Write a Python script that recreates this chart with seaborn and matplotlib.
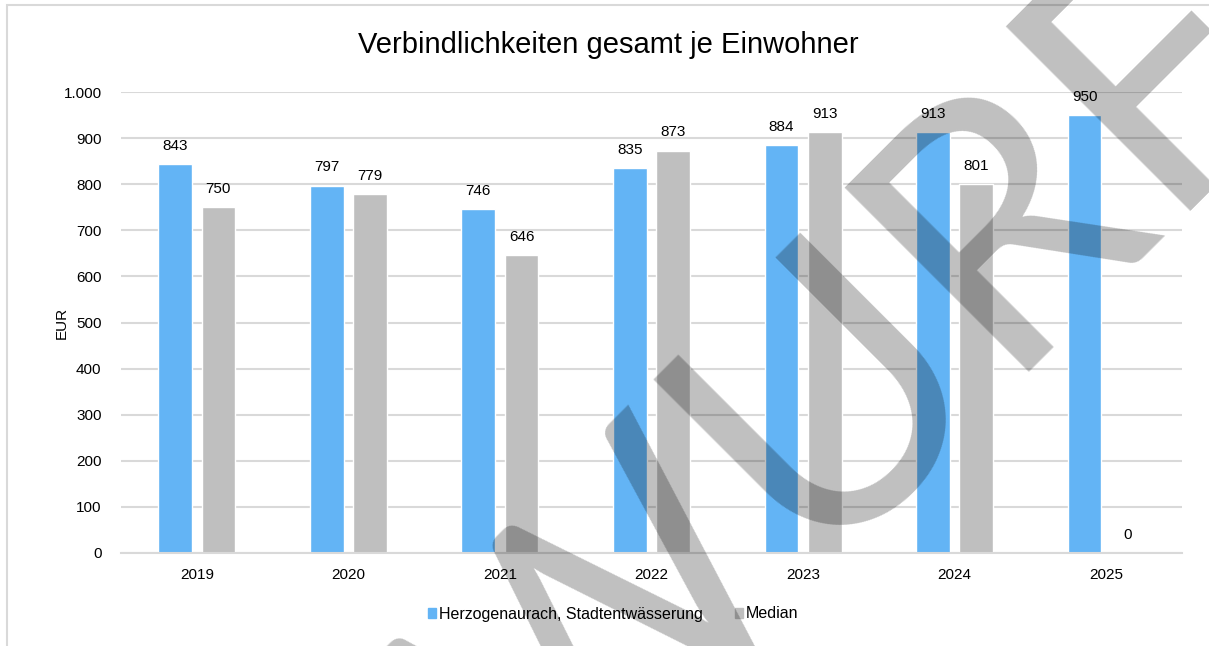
import matplotlib
matplotlib.use("Agg")
import matplotlib.pyplot as plt
import matplotlib.patches as mpatches
from matplotlib.ticker import FuncFormatter, MultipleLocator
import pandas as pd
import seaborn as sns

# Data
years = ["2019", "2020", "2021", "2022", "2023", "2024", "2025"]
herzogenaurach = [843, 797, 746, 835, 884, 913, 950]
median = [750, 779, 646, 873, 913, 801, 0]
series_names = ["Herzogenaurach, Stadtentwässerung", "Median"]

title = "Verbindlichkeiten gesamt je Einwohner"
y_label = "EUR"
watermark = "ENTWURF"

df = pd.DataFrame({
    "Jahr": years * 2,
    "Wert": herzogenaurach + median,
    "Serie": [series_names[0]] * len(years) + [series_names[1]] * len(years),
})

colors = {series_names[0]: "#63B4F5", series_names[1]: "#BFBFBF"}

sns.set_style("white")
plt.rcParams["font.family"] = ["Liberation Sans", "DejaVu Sans"]
plt.rcParams["text.color"] = "black"

fig = plt.figure(figsize=(12.09, 6.46), dpi=100)
ax = fig.add_axes([121 / 1209, 1 - 553 / 646, (1182 - 121) / 1209, (553 - 92) / 646])

sns.barplot(data=df, x="Jahr", y="Wert", hue="Serie", palette=colors,
            width=0.57, gap=0.22, saturation=1, ax=ax, legend=False)

for cont in ax.containers:
    ax.bar_label(cont, fmt="%d", padding=8, fontsize=11, color="black")

ax.set_ylim(0, 1000)
ax.yaxis.set_major_locator(MultipleLocator(100))
ax.yaxis.set_major_formatter(FuncFormatter(lambda v, p: f"{int(v):,}".replace(",", ".")))
ax.grid(axis="y", color="#D9D9D9", linewidth=1.5)
ax.set_axisbelow(True)
for side in ["top", "right", "left"]:
    ax.spines[side].set_visible(False)
ax.spines["bottom"].set_color("#D9D9D9")
ax.spines["bottom"].set_linewidth(1.5)
ax.tick_params(axis="both", length=0, labelsize=11, colors="black")
ax.tick_params(axis="x", pad=11)
ax.tick_params(axis="y", pad=14)
ax.set_xlabel("")
ax.set_ylabel(y_label, fontsize=11, color="black")
ax.yaxis.set_label_coords(-0.049, 0.5)

fig.text(0.503, 1 - 45 / 646, title, ha="center", va="center", fontsize=21, color="black")

handles = [mpatches.Patch(color=colors[s], label=s) for s in series_names]
fig.legend(handles=handles, loc="center", bbox_to_anchor=(613 / 1209, 1 - 614 / 646),
           ncol=2, frameon=False, fontsize=11.5, handlelength=0.55, handleheight=0.55,
           handletextpad=0.15, columnspacing=2.0)

# chart frame (only left / top edges are visible in the crop)
fig.add_artist(mpatches.Rectangle((7 / 1209, -0.05), 1.2, 1 - 5 / 646 + 0.05,
                                  transform=fig.transFigure, fill=False,
                                  edgecolor="#D9D9D9", linewidth=1.5))

# watermark, anchored at the middle of its baseline
fig.text(674 / 1209, 1 - 694 / 646, watermark, ha="center", va="baseline",
         rotation=45, rotation_mode="anchor", fontsize=262,
         family=["Lato", "Liberation Sans"], color="black", alpha=0.25, zorder=10)

fig.savefig("out.png", dpi=100)
